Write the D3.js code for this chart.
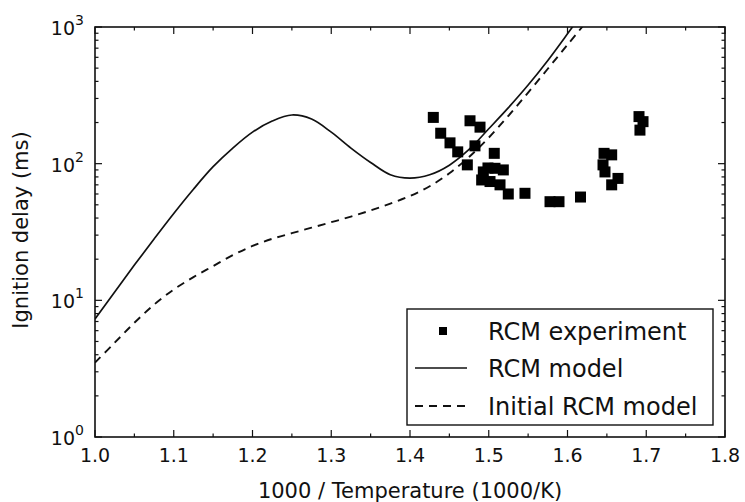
<!DOCTYPE html>
<html><head><meta charset="utf-8">
<script src="https://cdn.jsdelivr.net/npm/d3@7"></script>
<style>body{margin:0;background:#fff}svg{display:block}text{font-family:"DejaVu Sans",sans-serif;fill:#111}</style>
</head><body><svg id="c" width="745" height="502"></svg>
<script>
// RCM experiment (x = 1000/T, y = ignition delay ms)
const expX = [1.4296,1.4762,1.4889,1.439,1.4508,1.4606,1.4825,1.507,1.4728,1.4931,1.5079,1.5185,1.491,1.5016,1.5143,1.5248,1.546,1.5778,1.5892,1.6165,1.6464,1.6561,1.6451,1.6476,1.6641,1.6561,1.6908,1.6959,1.692,1.499];
const expY = [218,206,185,167,142,122,135,119,98,87,92.5,90,76,74,70,60,60.7,52.7,52.7,57,119,116,98,87,78,70,221,203,176,93];
// RCM model (solid)
const modelX = [1.00,1.025,1.05,1.075,1.10,1.125,1.15,1.175,1.20,1.225,1.25,1.275,1.30,1.325,1.35,1.375,1.40,1.425,1.45,1.475,1.50,1.525,1.55,1.575,1.60,1.625];
const modelY = [7.3,11.5,18.1,28.1,43.2,65,95,130,170,205,227,212,170,130,102,83,78.5,83,97.5,127,180,257,376,569,891,1413];
// Initial RCM model (dashed)
const initX = [1.00,1.025,1.05,1.075,1.10,1.125,1.15,1.175,1.20,1.225,1.25,1.275,1.30,1.325,1.35,1.375,1.40,1.425,1.45,1.475,1.50,1.525,1.55,1.575,1.60,1.625];
const initY = [3.5,4.9,6.85,9.3,12.0,14.8,17.8,21.4,25.0,28.2,31.0,34.0,37.3,41,45.5,51,58,68.4,85,112,155,224,331,495,741,1110];
const xTicks = [1.0,1.1,1.2,1.3,1.4,1.5,1.6,1.7,1.8];
const yTicks = [1,10,100,1000];
const yTickExp = ["0","1","2","3"];
const legendLabels = ["RCM experiment","RCM model","Initial RCM model"];

const svg = d3.select("#c");
const L=95,R=725,T=27,B=437;
const x = d3.scaleLinear().domain([1.0,1.8]).range([L,R]);
const y = d3.scaleLog().domain([1,1000]).range([B,T]);

svg.append("defs").append("clipPath").attr("id","clip").append("rect")
  .attr("x",L).attr("y",T).attr("width",R-L).attr("height",B-T);

const line = d3.line().x(d=>x(d[0])).y(d=>y(d[1])).curve(d3.curveCatmullRom.alpha(0.5));
const g = svg.append("g").attr("clip-path","url(#clip)");
g.append("path").datum(modelX.map((v,i)=>[v,modelY[i]])).attr("d",line)
  .attr("fill","none").attr("stroke","#111").attr("stroke-width",1.7);
g.append("path").datum(initX.map((v,i)=>[v,initY[i]])).attr("d",line)
  .attr("fill","none").attr("stroke","#111").attr("stroke-width",1.9).attr("stroke-dasharray","8,6");
const s=11;
g.selectAll("rect.pt").data(expX.map((v,i)=>[v,expY[i]])).enter().append("rect")
  .attr("x",d=>x(d[0])-s/2).attr("y",d=>y(d[1])-s/2).attr("width",s).attr("height",s).attr("fill","#000");

// inward ticks on all four sides
const minorX = d3.range(1.05,1.8,0.1);
const minorY = [];
for (let e=0;e<3;e++) for (let k=2;k<=9;k++) minorY.push(k*Math.pow(10,e));
const tk = svg.append("g").attr("stroke","#111").attr("stroke-width",1.2);
xTicks.forEach(v=>{
  tk.append("line").attr("x1",x(v)).attr("x2",x(v)).attr("y1",B).attr("y2",B-7);
  tk.append("line").attr("x1",x(v)).attr("x2",x(v)).attr("y1",T).attr("y2",T+7);
});
minorX.forEach(v=>{
  tk.append("line").attr("x1",x(v)).attr("x2",x(v)).attr("y1",B).attr("y2",B-3.5);
  tk.append("line").attr("x1",x(v)).attr("x2",x(v)).attr("y1",T).attr("y2",T+3.5);
});
yTicks.forEach(v=>{
  tk.append("line").attr("x1",L).attr("x2",L+7).attr("y1",y(v)).attr("y2",y(v));
  tk.append("line").attr("x1",R).attr("x2",R-7).attr("y1",y(v)).attr("y2",y(v));
});
minorY.forEach(v=>{
  tk.append("line").attr("x1",L).attr("x2",L+3.5).attr("y1",y(v)).attr("y2",y(v));
  tk.append("line").attr("x1",R).attr("x2",R-3.5).attr("y1",y(v)).attr("y2",y(v));
});
svg.append("rect").attr("x",L).attr("y",T).attr("width",R-L).attr("height",B-T)
  .attr("fill","none").attr("stroke","#111").attr("stroke-width",1.6);

// tick labels
svg.append("g").selectAll("text").data(xTicks).enter().append("text")
  .attr("x",d=>x(d)).attr("y",B+25).attr("text-anchor","middle")
  .attr("font-size",19).text(d=>d.toFixed(1));
const yl = svg.append("g");
yTicks.forEach((v,i)=>{
  yl.append("text").attr("x",L-20).attr("y",y(v)+8).attr("text-anchor","end").attr("font-size",19).text("10");
  yl.append("text").attr("x",L-20).attr("y",y(v)-2).attr("text-anchor","start").attr("font-size",14).text(yTickExp[i]);
});

// axis titles
svg.append("text").attr("x",(L+R)/2).attr("y",498).attr("text-anchor","middle").attr("font-size",21)
  .text("1000 / Temperature (1000/K)");
svg.append("text").attr("transform","translate(28,230) rotate(-90)").attr("text-anchor","middle").attr("font-size",21)
  .text("Ignition delay (ms)");

// legend
const lg = svg.append("g");
lg.append("rect").attr("x",407).attr("y",309).attr("width",306).attr("height",116)
  .attr("fill","#fff").attr("stroke","#111").attr("stroke-width",1.4);
const rows=[331,368,406];
lg.append("rect").attr("x",443-4).attr("y",rows[0]-4).attr("width",8).attr("height",8).attr("fill","#000");
lg.append("line").attr("x1",415).attr("x2",467).attr("y1",rows[1]).attr("y2",rows[1]).attr("stroke","#111").attr("stroke-width",1.7);
lg.append("line").attr("x1",415).attr("x2",467).attr("y1",rows[2]).attr("y2",rows[2]).attr("stroke","#111").attr("stroke-width",1.9).attr("stroke-dasharray","8,6");
legendLabels.forEach((t,i)=>{
  lg.append("text").attr("x",488).attr("y",rows[i]+8.5).attr("font-size",24).text(t);
});
</script></body></html>
